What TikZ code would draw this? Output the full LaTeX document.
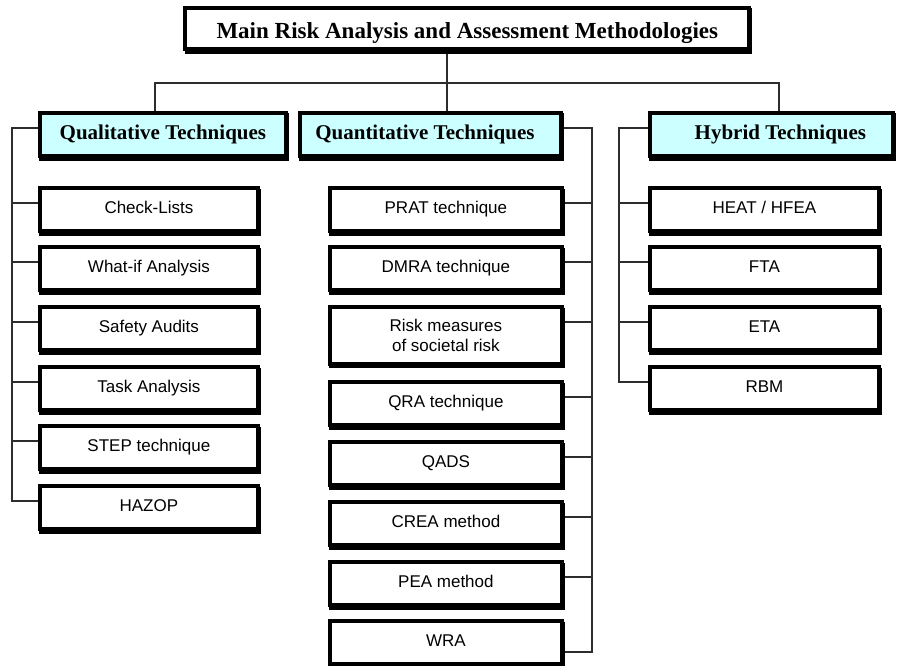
\documentclass[tikz,border=0pt]{standalone}
\usepackage{fontspec}
\setmainfont{Liberation Serif}
\newfontfamily\itemfont{Liberation Sans}
\usetikzlibrary{backgrounds}
\definecolor{headfill}{RGB}{204,255,255}
\definecolor{linkgray}{RGB}{45,45,45}
\tikzset{
  frame/.style={draw=black, line width=4pt, inner sep=0pt, outer sep=0pt,
    preaction={fill=black, draw=black, line width=4pt,
      transform canvas={shift={(1.2pt,-2.5pt)}}}},
  titlebox/.style={frame, fill=white, font=\fontsize{23}{27}\selectfont\bfseries,
    text height=19pt, text depth=0.3pt},
  headbox/.style={frame, fill=headfill, minimum height=43.5pt,
    font=\fontsize{21}{25}\selectfont\bfseries, text height=14pt, text depth=3.6pt},
  itembase/.style={frame, fill=white, font=\itemfont\fontsize{17}{20}\selectfont},
  itembox/.style={itembase, minimum height=43pt, text height=12pt, text depth=5pt},
  qlitem/.style={itembox, minimum width=217.8pt},
  qnitem/.style={itembox, minimum width=231.8pt},
  hyitem/.style={itembox, minimum width=228.8pt},
  link/.style={draw=linkgray, line width=1.1pt},
}
\begin{document}
\begin{tikzpicture}[x=1pt,y=-1pt]
\useasboundingbox (0,0) rectangle (897,666);

% title and the three family headers
\node[titlebox, minimum width=563.8pt, minimum height=41.5pt] (title) at (467.3,28.75)
  {Main Risk Analysis and Assessment Methodologies};
\node[headbox, minimum width=245.8pt] (qlh) at (162.9,134.75) {Qualitative Techniques};
\node[headbox, minimum width=260.8pt] (qnh) at (430.4,134.75) {Quantitative Techniques\hspace*{11pt}};
\node[headbox, minimum width=242.8pt] (hyh) at (771.4,134.75) {\hspace*{18pt}Hybrid Techniques};

% qualitative techniques
\node[qlitem] (c1) at (148.9,209.5) {Check-Lists};
\node[qlitem] (c2) at (148.9,268.5) {What-if Analysis};
\node[qlitem] (c3) at (148.9,328.5) {Safety Audits};
\node[qlitem] (c4) at (148.9,388.5) {Task Analysis};
\node[qlitem] (c5) at (148.9,447.5) {STEP technique};
\node[qlitem] (c6) at (148.9,507.5) {HAZOP};

% quantitative techniques
\node[qnitem] (p1) at (445.9,209.5) {PRAT technique};
\node[qnitem] (p2) at (445.9,268.5) {DMRA technique};
\node[itembase, minimum width=231.8pt, minimum height=56.5pt, align=center] (p3) at (445.9,335.25)
  {Risk measures\\of societal risk};
\node[qnitem] (p4) at (445.9,403.5) {QRA technique};
\node[qnitem] (p5) at (445.9,463.5) {QADS};
\node[qnitem] (p6) at (445.9,523.5) {CREA method};
\node[qnitem] (p7) at (445.9,583.5) {PEA method};
\node[qnitem] (p8) at (445.9,642.5) {WRA};

% hybrid techniques
\node[hyitem] (h1) at (764.4,209.5) {HEAT / HFEA};
\node[hyitem] (h2) at (764.4,268.5) {FTA};
\node[hyitem] (h3) at (764.4,328.5) {ETA};
\node[hyitem] (h4) at (764.4,388.5) {RBM};

% bus positions
\coordinate (trunk) at (447,83);
\coordinate (lbus) at (155,83);
\coordinate (rbus) at (779,83);
\coordinate (qlbus) at (12,0);
\coordinate (qnbus) at (592,0);
\coordinate (hybus) at (619,0);

\begin{pgfonlayer}{background}
  \fill[white] (0,0) rectangle (897,666);
  % tree from the title down to the headers
  \draw[link] (title.south -| trunk) -- (qnh.north -| trunk);
  \draw[link] (qlh.north -| lbus) |- (rbus) -- (hyh.north -| rbus);

  % qualitative bus on the left
  \path ([yshift=6.75pt]qlh.west) coordinate (qlhp);
  \foreach \n in {c1,c2,c3,c4,c5,c6} \path ([yshift=6.5pt]\n.west) coordinate (\n p);
  \draw[link] (qlhp) -| (qlbus |- c6p) -- (c6p);
  \foreach \n in {c1,c2,c3,c4,c5} \draw[link] (\n p) -- (\n p -| qlbus);

  % quantitative bus on the right
  \path ([yshift=6.75pt]qnh.east) coordinate (qnhp);
  \foreach \n in {p1,p2,p4,p5,p6,p7} \path ([yshift=6.5pt]\n.east) coordinate (\n p);
  \path ([yshift=13.25pt]p3.east) coordinate (p3p);
  \path ([yshift=-9.5pt]p8.east) coordinate (p8p);
  \draw[link] (qnhp) -| (qnbus |- p8p) -- (p8p);
  \foreach \n in {p1,p2,p3,p4,p5,p6,p7} \draw[link] (\n p) -- (\n p -| qnbus);

  % hybrid bus on the left
  \path ([yshift=6.75pt]hyh.west) coordinate (hyhp);
  \foreach \n in {h1,h2,h3,h4} \path ([yshift=6.5pt]\n.west) coordinate (\n p);
  \draw[link] (hyhp) -| (hybus |- h4p) -- (h4p);
  \foreach \n in {h1,h2,h3} \draw[link] (\n p) -- (\n p -| hybus);
\end{pgfonlayer}
\end{tikzpicture}
\end{document}
